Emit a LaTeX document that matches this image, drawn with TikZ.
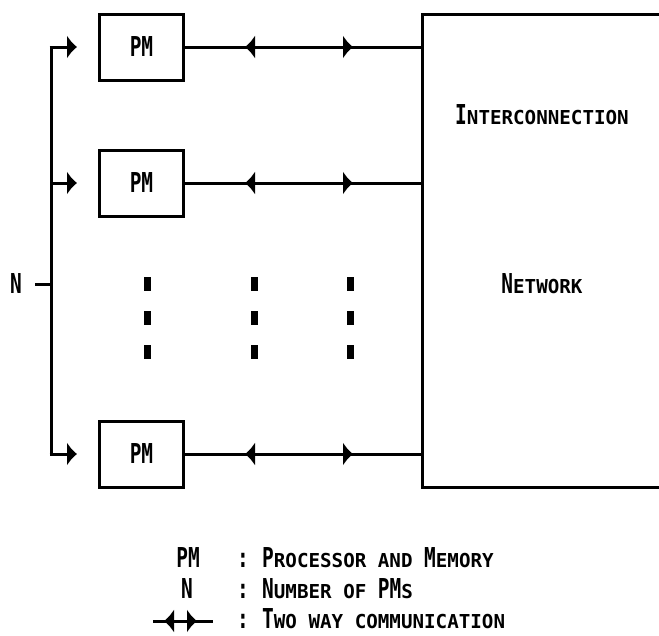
\documentclass[tikz,border=0pt]{standalone}
\usepackage{fontspec}
\usetikzlibrary{arrows.meta,decorations.markings}
\newfontfamily\capf[FakeStretch=0.71]{DejaVu Sans Mono Bold}
\newfontfamily\scf{DejaVu Sans Mono Bold}
\newcommand\Cap[1]{{\capf\fontsize{27.4}{28}\selectfont #1}}
\newcommand\Sm[1]{{\scf\fontsize{19.2}{20}\selectfont\MakeUppercase{#1}}}
\tikzset{
  >={Latex[length=10pt,width=24pt]},
  line/.style={line width=3pt},
  tipr/.style={line width=3pt,->},
  pmbox/.style={draw,line width=3pt,minimum width=84pt,minimum height=66pt,inner sep=0pt},
  netbox/.style={draw,line width=3pt,minimum width=278pt,minimum height=473pt,inner sep=0pt},
  txt/.style={inner sep=0pt,font=\scf\fontsize{19.2}{20}\selectfont},
  twoway/.style 2 args={line width=3pt,decoration={markings,
      mark=at position #1 with {\arrow{<}},
      mark=at position #2 with {\arrow{>}}},postaction={decorate}},
  vdot/.style={fill=black},
}
\begin{document}
\begin{tikzpicture}[x=1pt,y=-1pt]
\useasboundingbox (0,0) rectangle (659,635);
% PM boxes
\node[pmbox] (pm1) at (141.5,47) {\Cap{PM}};
\node[pmbox] (pm2) at (141.5,183) {\Cap{PM}};
\node[pmbox] (pm3) at (141.5,454) {\Cap{PM}};
% network
\node[netbox] (net) at (561,250.5) {};
\node[txt,anchor=base] (t1) at (542,124) {\Cap{I}\Sm{nterconnection}};
\node[txt,anchor=base] (t2) at (542,293) {\Cap{N}\Sm{etwork}};
% bus
\coordinate (b1) at (51,47);
\coordinate (b2) at (51,183);
\coordinate (b3) at (51,454);
\draw[line] ([yshift=-1.5pt]b1) -- ([yshift=1.5pt]b3);
\draw[tipr] ([xshift=-1.5pt]b1) -- ([xshift=-21pt]pm1.west);
\draw[tipr] (b2) -- ([xshift=-21pt]pm2.west);
\draw[tipr] ([xshift=-1.5pt]b3) -- ([xshift=-21pt]pm3.west);
% N
\node[txt,anchor=base] (n) at (16,293) {\Cap{N}};
\coordinate (nt) at (35,284);
\draw[line] (nt) -- (nt -| b1);
% two way lines
\draw[twoway={70pt}{168pt}] (pm1.east) -- (pm1.east -| net.west);
\draw[twoway={70pt}{168pt}] (pm2.east) -- (pm2.east -| net.west);
\draw[twoway={70pt}{168pt}] (pm3.east) -- (pm3.east -| net.west);
% dots
\foreach \x in {147,254,350}{
  \foreach \y in {284,318,352}{
    \fill[vdot] (\x-3.5,\y-7) rectangle (\x+3.5,\y+7);
  }
}
% legend
\node[txt,anchor=base] (l1) at (188,567) {\Cap{PM}};
\node[txt,anchor=base] (l2) at (187,598) {\Cap{N}};
\coordinate (la) at (153,621);
\coordinate (lb) at (213,621);
\draw[twoway={21pt}{44pt}] (la) -- (lb);
\node[txt,anchor=base] (c1) at (243,567) {\Cap{:}};
\node[txt,anchor=base] (c2) at (243,598) {\Cap{:}};
\node[txt,anchor=base] (c3) at (243,628) {\Cap{:}};
\node[txt,anchor=base west] (d1) at (262,567) {\Cap{P}\Sm{rocessor and }\Cap{M}\Sm{emory}};
\node[txt,anchor=base west] (d2) at (262,598) {\Cap{N}\Sm{umber of }\Cap{PM}\Sm{s}};
\node[txt,anchor=base west] (d3) at (262,628) {\Cap{T}\Sm{wo way communication}};
\end{tikzpicture}
\end{document}
